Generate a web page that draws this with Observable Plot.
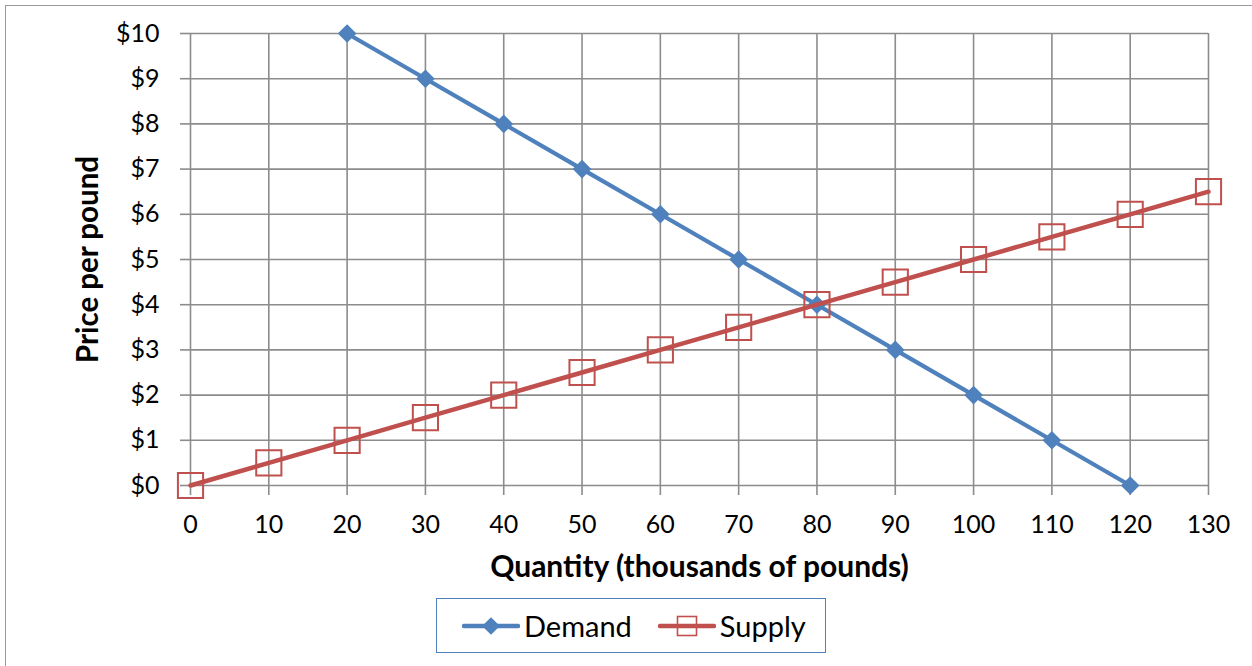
<!DOCTYPE html>
<html>
<head>
<meta charset="utf-8">
<script src="https://cdn.jsdelivr.net/npm/d3@7"></script>
<script src="https://cdn.jsdelivr.net/npm/@observablehq/plot@0.6"></script>
<style>
  html, body { margin: 0; padding: 0; background: #fff; }
  #wrap { position: relative; width: 1252px; height: 666px; overflow: hidden; font-family: Lato, "Open Sans", sans-serif; }
  #frame { position: absolute; left: 5px; top: 5px; width: 1270px; height: 680px; border: 1.5px solid #999; box-sizing: border-box; }
  #chart { position: absolute; left: 0; top: 0; }
  #legend { position: absolute; left: 436px; top: 598px; width: 390px; height: 55px; border: 1.5px solid #4F81BD; box-sizing: border-box; display: flex; align-items: center; font-size: 29px; color: #000; }
  #legend .item { display: flex; align-items: center; }
  #legend svg { display: block; }
</style>
</head>
<body>
<div id="wrap">
  <div id="frame"></div>
  <div id="chart"></div>
  <div id="legend"></div>
</div>
<script>
// Data
const demandQuantity = [20, 30, 40, 50, 60, 70, 80, 90, 100, 110, 120];
const demandPrice    = [10, 9, 8, 7, 6, 5, 4, 3, 2, 1, 0];
const supplyQuantity = [0, 10, 20, 30, 40, 50, 60, 70, 80, 90, 100, 110, 120, 130];
const supplyPrice    = [0, 0.5, 1, 1.5, 2, 2.5, 3, 3.5, 4, 4.5, 5, 5.5, 6, 6.5];
const xTicks = [0, 10, 20, 30, 40, 50, 60, 70, 80, 90, 100, 110, 120, 130];
const yTicks = [0, 1, 2, 3, 4, 5, 6, 7, 8, 9, 10];
const seriesNames = ["Demand", "Supply"];
const seriesColors = ["#4F81BD", "#C0504D"];
const xTitle = "Quantity (thousands of pounds)";
const yTitle = "Price per pound";

const demand = demandQuantity.map((q, i) => ({q, p: demandPrice[i]}));
const supply = supplyQuantity.map((q, i) => ({q, p: supplyPrice[i]}));

const grid = "#8c8c8c";

const chart = Plot.plot({
  width: 1252,
  height: 590,
  marginLeft: 190,
  marginRight: 44,
  marginTop: 33,
  marginBottom: 105,
  style: {fontFamily: "Lato, 'Open Sans', sans-serif", fontSize: "25px", color: "#000", background: "transparent", overflow: "visible"},
  x: {domain: [0, 130], label: null},
  y: {domain: [0, 10], label: null},
  marks: [
    Plot.gridX(xTicks, {stroke: grid, strokeOpacity: 1, strokeWidth: 1.6}),
    Plot.gridY(yTicks, {stroke: grid, strokeOpacity: 1, strokeWidth: 1.6}),
    Plot.axisX(xTicks, {tickSize: 10, tickPadding: 20, stroke: grid, strokeWidth: 1.6, label: null, fontSize: 25, fill: "#000"}),
    Plot.axisY(yTicks, {tickSize: 10, tickPadding: 21, stroke: grid, strokeWidth: 1.6, label: null, fontSize: 25, fill: "#000", tickFormat: d => "$" + d}),
    Plot.line(demand, {x: "q", y: "p", stroke: seriesColors[0], strokeWidth: 4.2, strokeLinecap: "round"}),
    Plot.dot(demand, {x: "q", y: "p", symbol: "diamond2", r: 8.4, fill: seriesColors[0], stroke: "none"}),
    Plot.line(supply, {x: "q", y: "p", stroke: seriesColors[1], strokeWidth: 4.5, strokeLinecap: "round"}),
    Plot.dot(supply, {x: "q", y: "p", symbol: "square", r: 14.2, fill: "none", stroke: seriesColors[1], strokeWidth: 2}),
    Plot.text([yTitle], {frameAnchor: "left", textAnchor: "middle", dx: -102, rotate: -90, fontWeight: "bold", fontSize: 29.5, fill: "#000"}),
    Plot.text([xTitle], {frameAnchor: "bottom", textAnchor: "middle", dy: 91, fontWeight: "bold", fontSize: 30, fill: "#000"})
  ]
});
document.getElementById("chart").appendChild(chart);

// Legend
const legend = d3.select("#legend");
seriesNames.forEach((name, i) => {
  const item = legend.append("div").attr("class", "item")
    .style("margin-left", i === 0 ? "25px" : "26px");
  const svg = item.append("svg").attr("width", 58).attr("height", 24);
  svg.append("line").attr("x1", 2).attr("x2", 56).attr("y1", 12).attr("y2", 12)
    .attr("stroke", seriesColors[i]).attr("stroke-width", 4.5).attr("stroke-linecap", "round");
  if (i === 0) {
    svg.append("path").attr("d", d3.symbol(d3.symbolDiamond2, 200)()).attr("transform", "translate(29,12)")
      .attr("fill", seriesColors[i]);
  } else {
    svg.append("rect").attr("x", 19.5).attr("y", 2.5).attr("width", 19).attr("height", 19)
      .attr("fill", "none").attr("stroke", seriesColors[i]).attr("stroke-width", 1.6);
  }
  item.append("span").text(name).style("margin-left", "4px");
});
</script>
</body>
</html>
